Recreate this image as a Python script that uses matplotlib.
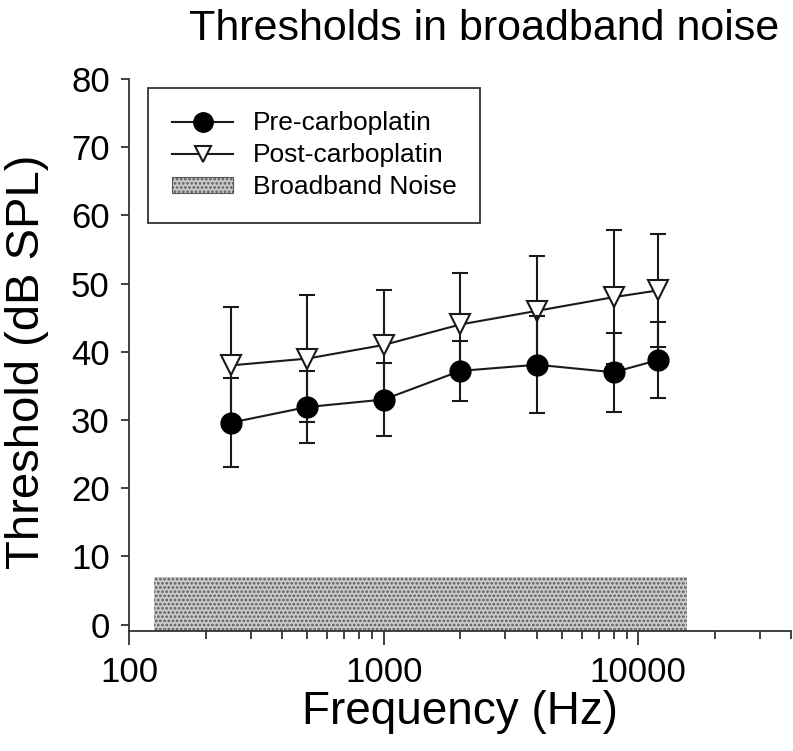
import numpy as np
import matplotlib.pyplot as plt
from matplotlib.lines import Line2D
from matplotlib.patches import Patch
from matplotlib.ticker import LogLocator, NullFormatter, FixedLocator

plt.rcParams['font.family'] = ['Liberation Sans', 'DejaVu Sans']
plt.rcParams['hatch.linewidth'] = 1.3

# data
freqs = [250, 500, 1000, 2000, 4000, 8000, 12000]
pre_mean = [29.6, 31.9, 33.0, 37.2, 38.1, 37.0, 38.8]
pre_err = [6.5, 5.3, 5.4, 4.4, 7.1, 5.8, 5.6]
post_mean = [38.0, 39.0, 41.0, 44.0, 46.0, 48.0, 49.0]
post_err = [8.5, 9.3, 8.0, 7.5, 8.0, 9.8, 8.3]
noise_band = [125, 15500]
noise_level = 7.0

ink = '#1a1a1a'

fig = plt.figure(figsize=(7.93, 7.51), dpi=100)
ax = fig.add_axes([0.163, 0.160, 0.835, 0.735])

y0 = -0.9
ax.fill_between(noise_band, y0, noise_level, facecolor='#cbcbcb', hatch='....',
                edgecolor='#5a5a5a', linewidth=0, zorder=1)

ax.errorbar(freqs, post_mean, yerr=post_err, color=ink, lw=1.5,
            marker='v', ms=15, mfc='white', mec=ink, mew=1.5,
            capsize=6, capthick=1.5, elinewidth=1.5, zorder=3)
ax.errorbar(freqs, pre_mean, yerr=pre_err, color=ink, lw=1.5,
            marker='o', ms=15, mfc='black', mec='black',
            capsize=6, capthick=1.5, elinewidth=1.5, zorder=4)

ax.set_xscale('log')
ax.set_xlim(100, 40000)
ax.set_ylim(y0, 80)
ax.set_yticks(np.arange(0, 81, 10))
ax.xaxis.set_major_locator(FixedLocator([100, 1000, 10000]))
ax.xaxis.set_minor_locator(LogLocator(base=10, subs=np.arange(2, 10)))
ax.xaxis.set_minor_formatter(NullFormatter())
ax.set_xticklabels(['100', '1000', '10000'])

for s in ['top', 'right']:
    ax.spines[s].set_visible(False)
for s in ['left', 'bottom']:
    ax.spines[s].set_color('#333333')
    ax.spines[s].set_linewidth(1.3)

ax.tick_params(axis='y', which='major', labelsize=25, length=6, width=1.3,
               color='#333333', direction='out', pad=8)
ax.tick_params(axis='x', which='major', labelsize=25, length=10, width=1.3,
               color='#333333', direction='out', pad=8)
ax.tick_params(axis='x', which='minor', length=6, width=1.3, color='#333333')

ax.set_xlabel('Frequency (Hz)', fontsize=33, labelpad=1)
ax.set_ylabel('Threshold (dB SPL)', fontsize=34)
ax.yaxis.set_label_coords(-0.121, 0.487)
ax.set_title('Thresholds in broadband noise', fontsize=31, pad=28, x=0.536)

handles = [
    Line2D([], [], color=ink, lw=1.5, marker='o', ms=14, mfc='black', mec='black'),
    Line2D([], [], color=ink, lw=1.5, marker='v', ms=12, mfc='white', mec=ink, mew=1.5),
    Patch(facecolor='#cbcbcb', hatch='....', edgecolor='#5a5a5a', linewidth=0.8),
]
labels = ['Pre-carboplatin', 'Post-carboplatin', 'Broadband Noise']
leg = ax.legend(handles, labels, loc='upper left', bbox_to_anchor=(0.029, 0.984),
                fontsize=19, fancybox=False, edgecolor='#333333', framealpha=1,
                borderpad=0.9, handlelength=2.3, handleheight=0.6,
                handletextpad=0.75, labelspacing=0.3, borderaxespad=0)
leg.get_frame().set_linewidth(1.3)

fig.savefig('out.png', dpi=100)
